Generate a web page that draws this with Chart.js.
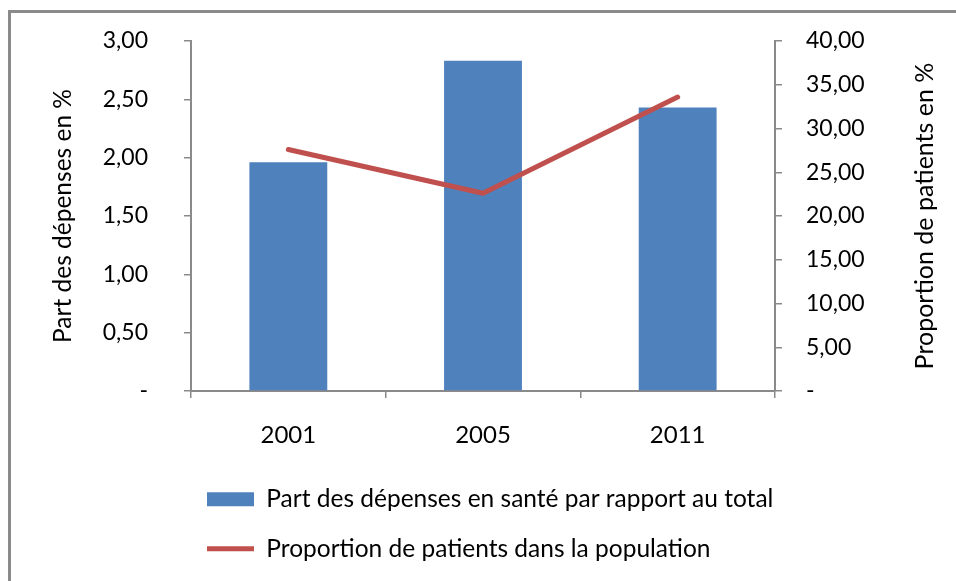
<!DOCTYPE html>
<html>
<head>
<meta charset="utf-8">
<script src="https://cdn.jsdelivr.net/npm/chart.js@4.4.1/dist/chart.umd.min.js"></script>
<style>
  html, body { margin: 0; padding: 0; background: #fff; overflow: hidden; }
  #cadre { position: absolute; left: 8px; top: 10px; width: 1000px; height: 700px; border: 3px solid #8a8a8a; box-sizing: border-box; }
  #zone { position: absolute; left: 0; top: 0; width: 956px; height: 581px; }
</style>
</head>
<body>
<div id="cadre"></div>
<div id="zone"><canvas id="Depenses"></canvas></div>
<script>
  const annees = ['2001', '2005', '2011'];
  const partDepenses = [1.96, 2.83, 2.43];
  const partPatients = [27.6, 22.6, 33.6];

  const police = 'Lato, "Open Sans", sans-serif';
  const gris = '#8a8a8a';

  const virgule = (v) => v === 0 ? '-' : v.toFixed(2).replace('.', ',');

  // titre de l'axe droit, lu de bas en haut comme a gauche
  const titreDroit = {
    id: 'titreDroit',
    beforeDraw(chart) {
      // decale la legende pour l'aligner comme dans l'original
      const lg = chart.legend;
      lg.left = chart.chartArea.left - 9;
      lg.right = chart.chartArea.right + 30;
      lg.width = lg.right - lg.left;
    },
    afterDraw(chart) {
      const s = chart.scales.y1;
      const ctx = chart.ctx;
      ctx.save();
      ctx.translate(925, (s.top + s.bottom) / 2);
      ctx.rotate(-Math.PI / 2);
      ctx.font = '25px ' + police;
      ctx.fillStyle = '#000';
      ctx.textAlign = 'center';
      ctx.textBaseline = 'middle';
      ctx.fillText('Proportion de patients en %', 0, 0);
      ctx.restore();
    }
  };

  // les marges des etiquettes ne doivent pas pousser la zone du graphique
  const sansMarge = (s, largeur) => {
    s.width = largeur;
    s.paddingTop = 0;
    s.paddingBottom = 0;
  };

  const donnees = {
    labels: annees,
    datasets: [{
      type: 'bar',
      label: 'Part des dépenses en santé par rapport au total',
      data: partDepenses,
      backgroundColor: '#4f81bd',
      borderWidth: 0,
      yAxisID: 'y',
      order: 1,
      categoryPercentage: 1,
      barPercentage: 0.4,
      pointStyle: 'rect'
    },
    {
      type: 'line',
      label: 'Proportion de patients dans la population',
      data: partPatients,
      borderColor: '#c0504d',
      backgroundColor: '#c0504d',
      borderWidth: 5,
      borderCapStyle: 'round',
      borderJoinStyle: 'round',
      pointRadius: 0,
      yAxisID: 'y1',
      order: 0,
      pointStyle: 'line'
    }]
  };

  const config = {
    data: donnees,
    options: {
      responsive: true,
      maintainAspectRatio: false,
      animation: false,
      layout: { padding: { top: 41, left: 0, right: 0, bottom: 10 } },
      plugins: {
        tooltip: { enabled: false },
        legend: {
          position: 'bottom',
          align: 'start',
          fullSize: false,
          labels: {
            usePointStyle: true,
            pointStyleWidth: 47,
            boxHeight: 14,
            padding: 25,
            color: '#000',
            font: { family: police, size: 24.5 },
            sort: (a, b) => a.datasetIndex - b.datasetIndex
          }
        }
      },
      scales: {
        x: {
          grid: { display: true, drawOnChartArea: false, drawTicks: true, tickLength: 7, color: gris, lineWidth: 1.5, offset: true },
          border: { display: true, color: gris, width: 2 },
          ticks: { color: '#000', padding: 23, font: { family: police, size: 24 } },
          afterFit: (s) => { s.height = 71; }
        },
        y: {
          position: 'left',
          min: 0,
          max: 3,
          grid: { display: true, drawOnChartArea: false, drawTicks: true, tickLength: 7, color: gris, lineWidth: 1.5 },
          border: { display: true, color: gris, width: 2 },
          ticks: { stepSize: 0.5, color: '#000', padding: 36, font: { family: police, size: 23 }, callback: virgule },
          title: { display: true, text: 'Part des dépenses en %', color: '#000', font: { family: police, size: 24.5 }, padding: { top: 48, bottom: 0 } },
          afterFit: (s) => sansMarge(s, 191)
        },
        y1: {
          position: 'right',
          min: 0,
          max: 40,
          grid: { display: true, drawOnChartArea: false, drawTicks: true, tickLength: 7, color: gris, lineWidth: 1.5 },
          border: { display: true, color: gris, width: 2 },
          ticks: { stepSize: 5, color: '#000', padding: 24, font: { family: police, size: 23 }, callback: virgule },
          afterFit: (s) => sansMarge(s, 181)
        }
      }
    },
    plugins: [titreDroit]
  };

  const graphique = new Chart(document.getElementById('Depenses'), config);
</script>
</body>
</html>
